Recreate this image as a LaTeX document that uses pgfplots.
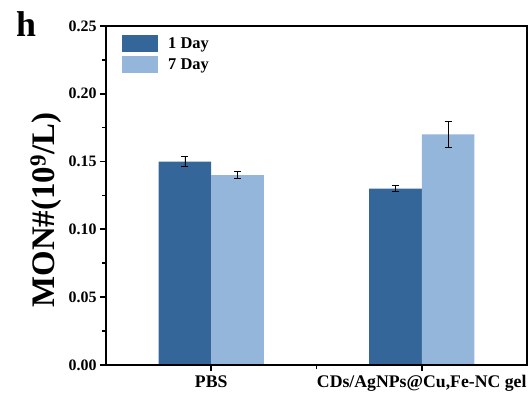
\documentclass[border=0pt]{standalone}
\usepackage{pgfplots}
\pgfplotsset{compat=1.18}
\usepackage{fontspec}
\setmainfont{Liberation Serif}
\definecolor{dayone}{RGB}{52,102,153}
\definecolor{dayseven}{RGB}{148,182,219}
\begin{document}
\begin{tikzpicture}
\begin{axis}[
  at={(0,0)}, anchor=south west,
  scale only axis,
  width=421bp, height=339bp,
  xmin=0.5, xmax=2.5,
  ymin=0, ymax=0.25,
  ybar,
  bar width=0.25,
  axis line style={draw=none},
  xtick={1,2},
  xticklabels={PBS, CDs/AgNPs@Cu{,}Fe-NC gel},
  minor xtick={1.5},
  ytick={0,0.05,0.10,0.15,0.20,0.25},
  minor ytick={0.025,0.075,0.125,0.175,0.225},
  tick align=outside,
  xtick pos=bottom, ytick pos=left,
  major tick length=6bp, minor tick length=4bp,
  major tick style={draw=black, line width=1.8bp},
  minor tick style={draw=black, line width=1.6bp},
  /pgf/number format/.cd, fixed, fixed zerofill, precision=2, assume math mode=true,
  /pgfplots/.cd,
  yticklabel style={font=\fontsize{16}{17}\selectfont\bfseries},
  xticklabel style={font=\fontsize{17.8}{18}\selectfont\bfseries, yshift=-1bp},
  ylabel={MON\#(10\textsuperscript{9}/L)},
  every axis y label/.style={at={(axis description cs:0,0.457)}, xshift=-60bp, rotate=90, anchor=center, font=\fontsize{33}{34}\selectfont\bfseries},
  legend style={at={(axis description cs:0.038,0.973)}, anchor=north west, draw=none, fill=none,
    font=\fontsize{16.5}{17}\selectfont\bfseries, row sep=4bp, column sep=8bp, inner sep=0pt},
  legend cell align=left,
  legend image code/.code={\fill[#1] (0bp,-8.5bp) rectangle (36bp,8.5bp);},
  clip=false,
]
\addplot[fill=dayone, draw=none, bar shift=-0.125,
  error bars/.cd, y dir=both, y explicit,
  error bar style={black, line width=0.8bp},
  error mark options={rotate=90, mark size=3.5bp, black, line width=0.8bp}]
  coordinates {(1,0.150) +- (0,0.0035) (2,0.130) +- (0,0.0022)};
\addlegendentry{1 Day}
\addplot[fill=dayseven, draw=none, bar shift=0.125,
  error bars/.cd, y dir=both, y explicit,
  error bar style={black, line width=0.8bp},
  error mark options={rotate=90, mark size=3.5bp, black, line width=0.8bp}]
  coordinates {(1,0.140) +- (0,0.0027) (2,0.170) +- (0,0.0095)};
\addlegendentry{7 Day}
\end{axis}
\draw[black, line width=2.2bp] (0,0) rectangle (421bp,339bp);
\node[font=\fontsize{36}{36}\selectfont\bfseries] at (-80bp,341bp) {h};
\pgfresetboundingbox
\path[use as bounding box] (-106bp,-34bp) rectangle (426bp,365bp);
\end{tikzpicture}
\end{document}
